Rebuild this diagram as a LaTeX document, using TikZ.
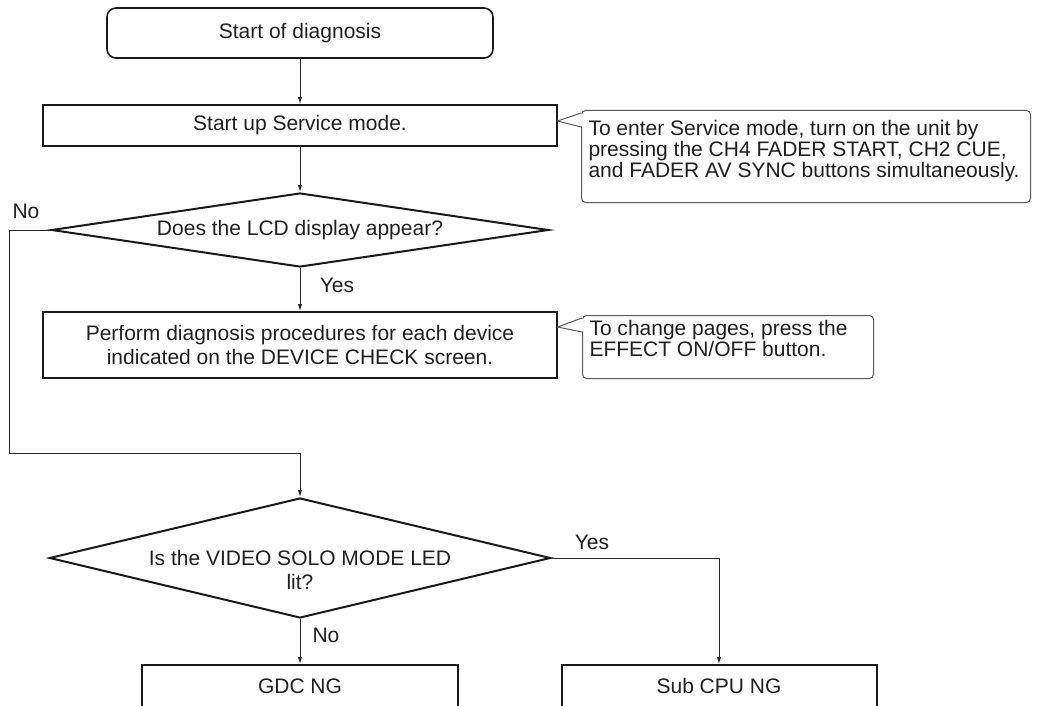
\documentclass[tikz,border=0pt]{standalone}
\usepackage{fontspec}
\setmainfont{Liberation Sans}
\usetikzlibrary{shapes.geometric,arrows.meta,calc}
\begin{document}
\begin{tikzpicture}[x=1bp,y=-1bp,
  every node/.style={font=\fontsize{21bp}{24bp}\selectfont, text=black!88},
  terminal/.style={draw=black!90, line width=1.6bp, rounded corners=9bp, minimum width=386bp, minimum height=50bp, inner sep=0},
  process/.style={draw=black!90, line width=2bp, minimum width=513bp, inner sep=0, align=center},
  decision/.style={draw=black!90, diamond, line width=2bp, inner sep=0, aspect=6},
  result/.style={draw=black!90, line width=2bp, minimum width=315bp, minimum height=42bp, inner sep=0},
  callout/.style={draw=black!65, line width=1bp, rounded corners=4bp, inner xsep=7bp, inner ysep=0, align=left},
  conn/.style={draw=black!85, line width=1bp, -{Latex[length=7bp,width=4.5bp]}},
  link/.style={draw=black!65, line width=1bp},
  lbl/.style={inner sep=0}
]
\useasboundingbox (0,0) rectangle (1040,706);
\clip (0,0) rectangle (1040,706);

\node[terminal] (start) at (300,33) {Start of diagnosis};
\node[process, minimum height=41bp] (svc) at (300,125.5) {Start up Service mode.};
\node[decision, minimum width=497bp, minimum height=74bp] (d1) at (300,230) {Does the LCD display appear?};
\node[process, minimum height=66bp] (dev) at (300,345) {Perform diagnosis procedures for each device\\indicated on the DEVICE CHECK screen.};
\node[decision, minimum width=501bp, minimum height=120bp,
      label={[align=center, yshift=-12bp]center:Is the VIDEO SOLO MODE LED\\lit?}] (d2) at (300,558) {};
\node[result] (gdc) at (300,686) {GDC NG};
\node[result] (sub) at (719,686) {Sub CPU NG};

\node[callout, anchor=north west] (c1) at (581,110) {\begin{minipage}[t][92bp][t]{435bp}\fontsize{21bp}{21bp}\selectfont\lineskiplimit=-50bp\vspace*{10bp}To enter Service mode, turn on the unit by\\pressing the CH4 FADER START, CH2 CUE,\\and FADER AV SYNC buttons simultaneously.\end{minipage}};
\node[callout, anchor=north west] (c2) at (582,315) {\begin{minipage}[t][63bp][t]{277bp}\fontsize{21bp}{21bp}\selectfont\lineskiplimit=-50bp\vspace*{5bp}To change pages, press the\\EFFECT ON/OFF button.\end{minipage}};

\coordinate (t1) at ($(svc.north east)+(0,17)$);
\coordinate (t2) at ($(dev.north east)+(0,16)$);
\fill[white] ($(c1.north west)+(1.5,3.5)$) -- (t1) -- ($(c1.north west)+(1.5,16.5)$) -- cycle;
\draw[link] ($(c1.north west)+(0,3)$) -- (t1) -- ($(c1.north west)+(0,17)$);
\fill[white] ($(c2.north west)+(1.5,3.5)$) -- (t2) -- ($(c2.north west)+(1.5,16.5)$) -- cycle;
\draw[link] ($(c2.north west)+(0,3)$) -- (t2) -- ($(c2.north west)+(0,17)$);

\node[lbl] (no1) at (26,211) {No};
\node[lbl] (yes1) at (337,285) {Yes};
\node[lbl] (yes2) at (592,542) {Yes};
\node[lbl] (no2) at (326,635) {No};

\coordinate (fb) at (9,453);
\draw[conn] (start) -- (svc);
\draw[conn] (svc) -- (d1);
\draw[conn] (d1) -- (dev);
\draw[conn] (d1.west) -| (fb) -| (d2.north);
\draw[conn] (d2.south) -- (gdc.north);
\draw[conn] (d2.east) -| (sub.north);
\end{tikzpicture}
\end{document}
